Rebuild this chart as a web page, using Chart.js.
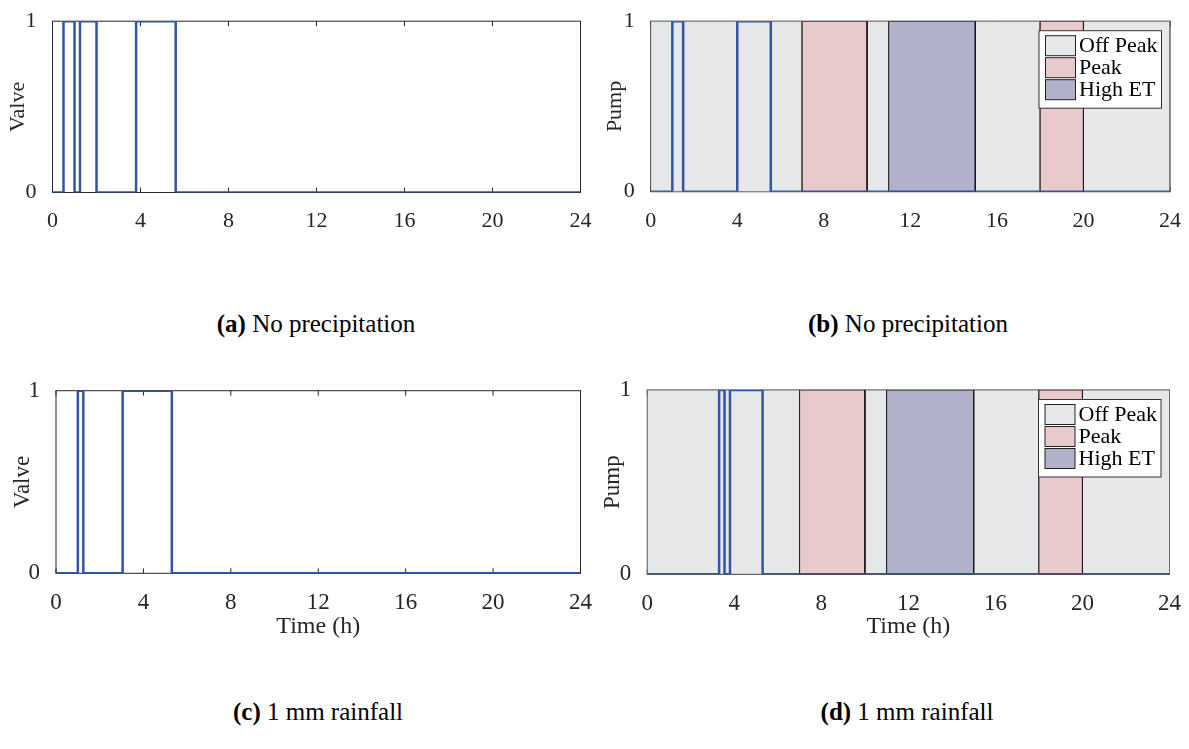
<!DOCTYPE html>
<html>
<head>
<meta charset="utf-8">
<title>Valve and pump schedules</title>
<script src="https://cdn.jsdelivr.net/npm/chart.js@4.4.1/dist/chart.umd.min.js"></script>
<style>
    html, body { margin: 0; padding: 0; background: #fff; }
    #page {
        position: relative;
        width: 1189px;
        height: 749px;
        overflow: hidden;
        font-family: "Liberation Serif", "Times New Roman", serif;
    }
    .panel { position: absolute; }
    .caption {
        position: absolute;
        transform: translate(-50%, -50%);
        font-size: 25px;
        color: #000;
        white-space: nowrap;
    }
</style>
</head>
<body>
<div id="page">
    <canvas id="chartA" class="panel" width="600" height="240" style="left:0;top:0"></canvas>
    <canvas id="chartB" class="panel" width="599" height="240" style="left:590px;top:0"></canvas>
    <canvas id="chartC" class="panel" width="600" height="281" style="left:0;top:360px"></canvas>
    <canvas id="chartD" class="panel" width="599" height="281" style="left:590px;top:360px"></canvas>

    <div class="caption" style="left:316px;top:324px"><b>(a)</b> No precipitation</div>
    <div class="caption" style="left:908px;top:324px"><b>(b)</b> No precipitation</div>
    <div class="caption" style="left:318px;top:712px"><b>(c)</b> 1 mm rainfall</div>
    <div class="caption" style="left:907px;top:712px"><b>(d)</b> 1 mm rainfall</div>
</div>

<script>
// Axis ticks
const hourTicks = [0, 4, 8, 12, 16, 20, 24];
const stateTicks = [0, 1];

// Switching instants (h) and the on/off state held from each instant
const valveTimesA = [0, 0.5, 1.0, 1.25, 2.0, 3.8, 5.6, 24];
const valveStatesA = [0, 1, 0, 1, 0, 1, 0, 0];

const pumpTimesB = [0, 1.0, 1.5, 4.0, 5.55, 24];
const pumpStatesB = [0, 1, 0, 1, 0, 0];

const valveTimesC = [0, 1.0, 1.25, 3.05, 5.3, 24];
const valveStatesC = [0, 1, 0, 1, 0, 0];

const pumpTimesD = [0, 3.3, 3.55, 3.8, 5.3, 24];
const pumpStatesD = [0, 1, 0, 1, 0, 0];

// Electricity tariff periods over the day
const periodStarts = [0, 7, 10, 11, 15, 18, 20];
const periodEnds = [7, 10, 11, 15, 18, 20, 24];
const periodKinds = ['Off Peak', 'Peak', 'Off Peak', 'High ET', 'Off Peak', 'Peak', 'Off Peak'];

const legendLabels = ['Off Peak', 'Peak', 'High ET'];
const periodFills = ['#e6e7e9', '#e8cacd', '#b1b1cb'];
const periodEdges = ['#6e6e6e', '#1a1a1a', '#1a1a1a'];

const LINE_BLUE = '#3254a8';
const AXIS_GRAY = '#262626';
const SERIF = '"Liberation Serif", "Times New Roman", serif';

Chart.defaults.font.family = SERIF;
Chart.defaults.color = AXIS_GRAY;

/**
 * Box around the axes with small inward tick marks
 */
const framePlugin = {
    id: 'frame',
    beforeDatasetsDraw(chart) {
        const { ctx, chartArea: a, scales } = chart;
        ctx.save();
        ctx.strokeStyle = AXIS_GRAY;
        ctx.lineWidth = 1;
        ctx.strokeRect(a.left, a.top, a.width, a.height);
        ctx.beginPath();
        scales.x.ticks.forEach(t => {
            const px = scales.x.getPixelForValue(t.value);
            ctx.moveTo(px, a.bottom);
            ctx.lineTo(px, a.bottom - 5);
            ctx.moveTo(px, a.top);
            ctx.lineTo(px, a.top + 5);
        });
        ctx.stroke();
        ctx.restore();
    }
};

/**
 * Boxed legend in the upper right corner of the plot
 */
const periodLegendPlugin = {
    id: 'periodLegend',
    afterDatasetsDraw(chart, args, opts) {
        if (!opts.show) return;
        const { ctx, chartArea: a } = chart;
        const x = a.right - 131;
        const y = a.top + 9.5;
        ctx.save();
        ctx.fillStyle = '#fff';
        ctx.fillRect(x, y, 122.5, 77.5);
        ctx.strokeStyle = '#333';
        ctx.lineWidth = 1;
        ctx.strokeRect(x, y, 122.5, 77.5);
        ctx.font = '22px ' + SERIF;
        ctx.textBaseline = 'middle';
        legendLabels.forEach((label, i) => {
            const rowY = y + 5 + i * 22;
            ctx.fillStyle = periodFills[i];
            ctx.fillRect(x + 6.5, rowY, 30, 20);
            ctx.strokeStyle = '#222';
            ctx.strokeRect(x + 6.5, rowY, 30, 20);
            ctx.fillStyle = '#000';
            ctx.fillText(label, x + 40, rowY + 11);
        });
        ctx.restore();
    }
};

/**
 * One filled rectangle per tariff period
 */
function periodDatasets() {
    return periodStarts.map((start, i) => {
        const end = periodEnds[i];
        const k = legendLabels.indexOf(periodKinds[i]);
        return {
            label: periodKinds[i],
            data: [
                { x: start, y: 0 }, { x: start, y: 1 },
                { x: end, y: 1 }, { x: end, y: 0 }, { x: start, y: 0 }
            ],
            fill: 'shape',
            backgroundColor: periodFills[k],
            borderColor: periodEdges[k],
            borderWidth: 1,
            pointRadius: 0,
            order: k === 0 ? 2 : 1
        };
    });
}

/**
 * Build one on/off step chart
 */
function buildPanel(id, cfg) {
    const ctx = document.getElementById(id).getContext('2d');
    const datasets = [{
        label: cfg.yTitle,
        data: cfg.times.map((t, i) => ({ x: t, y: cfg.states[i] })),
        stepped: 'before',
        borderColor: LINE_BLUE,
        borderWidth: 2.5,
        pointRadius: 0,
        fill: false,
        order: 0
    }];
    if (cfg.periods) datasets.push(...periodDatasets());

    return new Chart(ctx, {
        type: 'line',
        data: { datasets: datasets },
        options: {
            responsive: false,
            animation: false,
            events: [],
            layout: { padding: cfg.padding },
            plugins: {
                legend: { display: false },
                tooltip: { enabled: false },
                periodLegend: { show: !!cfg.periods }
            },
            scales: {
                x: {
                    type: 'linear',
                    min: 0,
                    max: 24,
                    afterBuildTicks: s => { s.ticks = hourTicks.map(v => ({ value: v })); },
                    afterFit: s => { s.height = cfg.xHeight; },
                    grid: { display: false },
                    border: { display: false },
                    ticks: {
                        padding: 8,
                        color: AXIS_GRAY,
                        maxRotation: 0,
                        font: { size: cfg.fontSize }
                    },
                    title: {
                        display: !!cfg.xTitle,
                        text: cfg.xTitle || '',
                        color: AXIS_GRAY,
                        padding: { top: 0, bottom: 0 },
                        font: { size: cfg.fontSize + 1 }
                    }
                },
                y: {
                    type: 'linear',
                    min: 0,
                    max: 1,
                    afterBuildTicks: s => { s.ticks = stateTicks.map(v => ({ value: v })); },
                    afterFit: s => { s.width = cfg.yWidth; },
                    grid: { display: false },
                    border: { display: false },
                    ticks: {
                        padding: 8,
                        color: AXIS_GRAY,
                        font: { size: cfg.fontSize }
                    },
                    title: {
                        display: true,
                        text: cfg.yTitle,
                        color: AXIS_GRAY,
                        padding: { top: cfg.yTitlePad, bottom: 0 },
                        font: { size: cfg.fontSize }
                    }
                }
            }
        },
        plugins: [framePlugin, periodLegendPlugin]
    });
}

function buildAll() {
    buildPanel('chartA', {
        times: valveTimesA, states: valveStatesA, yTitle: 'Valve',
        padding: { top: 19.5, right: 19.5, left: 0, bottom: 0 },
        yWidth: 52.5, xHeight: 47.5, fontSize: 22, yTitlePad: 5
    });

    buildPanel('chartB', {
        times: pumpTimesB, states: pumpStatesB, yTitle: 'Pump', periods: true,
        padding: { top: 14.7, right: 19, left: 0, bottom: 0 },
        yWidth: 60.7, xHeight: 48.3, fontSize: 22, yTitlePad: 12
    });

    buildPanel('chartC', {
        times: valveTimesC, states: valveStatesC, yTitle: 'Valve', xTitle: 'Time (h)',
        padding: { top: 30.7, right: 17.2, left: 0, bottom: 0 },
        yWidth: 56, xHeight: 67.7, fontSize: 23, yTitlePad: 8.7
    });

    buildPanel('chartD', {
        times: pumpTimesD, states: pumpStatesD, yTitle: 'Pump', xTitle: 'Time (h)', periods: true,
        padding: { top: 30, right: 16.3, left: 0, bottom: 0 },
        yWidth: 57.3, xHeight: 66.7, fontSize: 23, yTitlePad: 8.7
    });
}

// Make sure the serif face is ready before drawing on the canvases
Promise.all([
    document.fonts.load('22px "Liberation Serif"'),
    document.fonts.load('23px "Liberation Serif"'),
    document.fonts.load('24px "Liberation Serif"')
]).then(buildAll, buildAll);
</script>
</body>
</html>
